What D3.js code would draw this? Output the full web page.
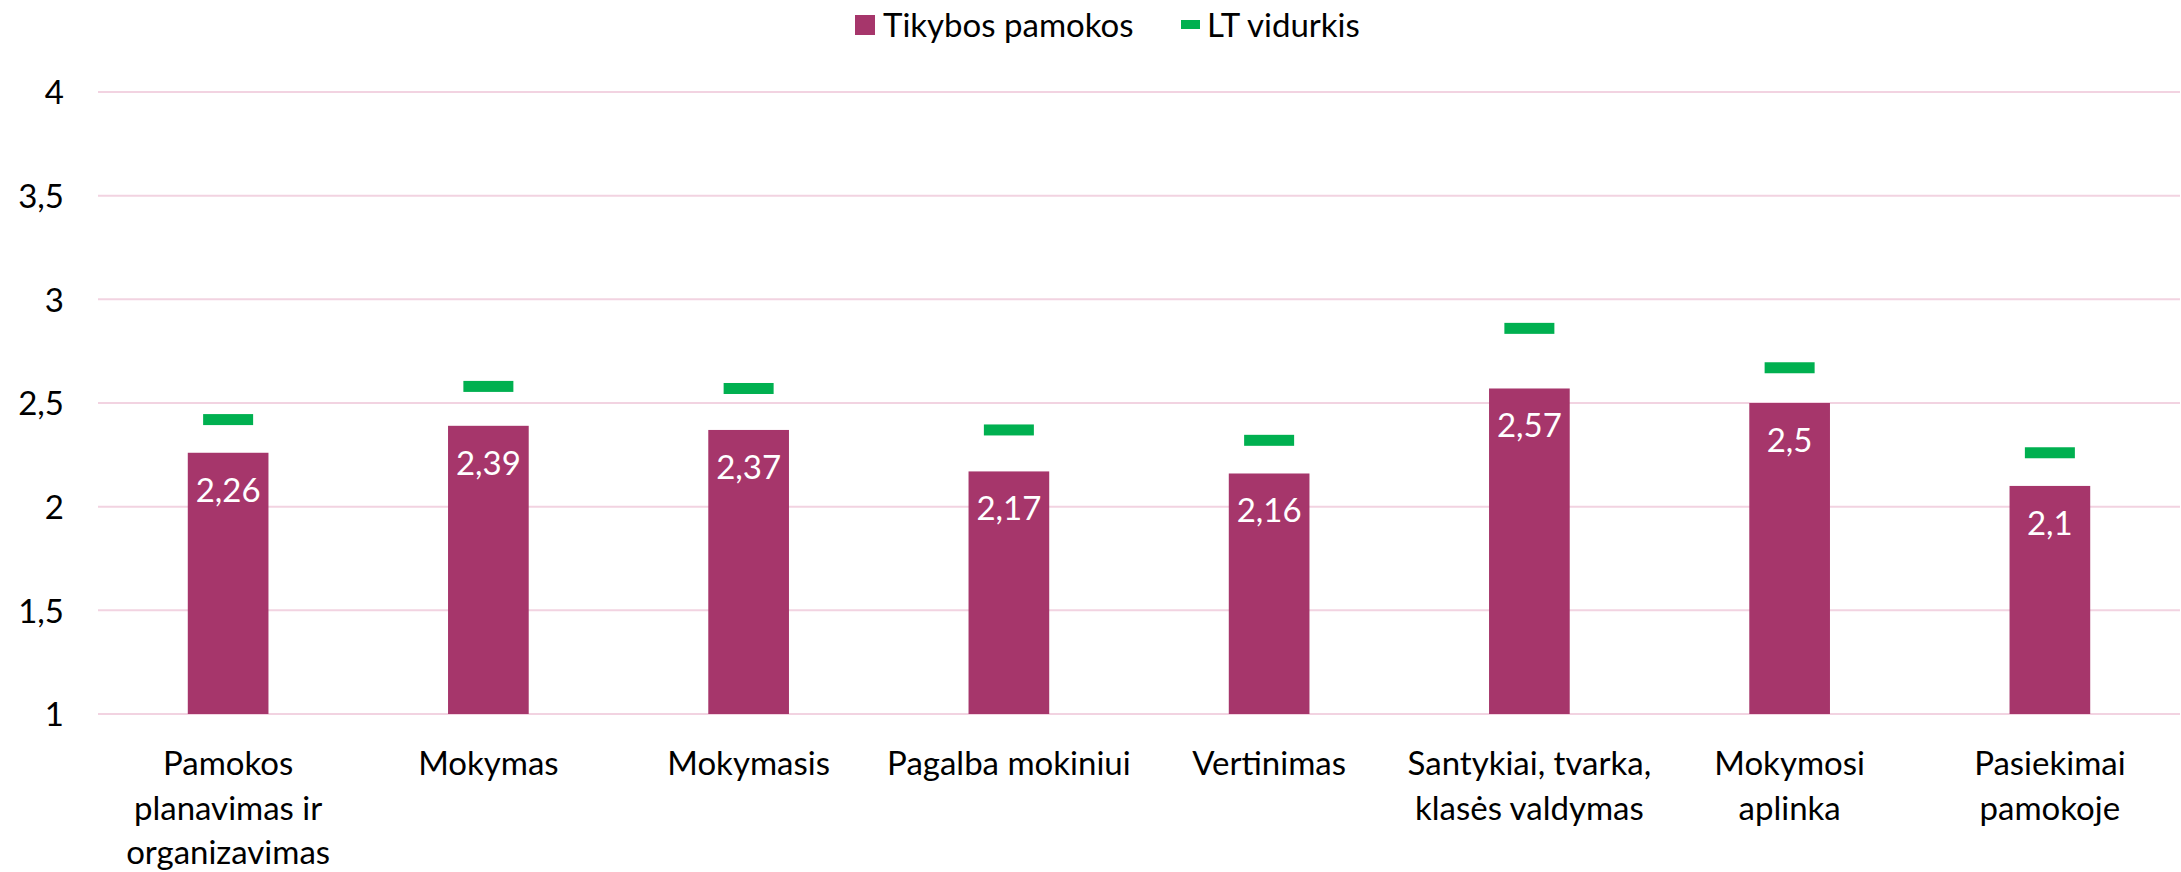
<!DOCTYPE html>
<html>
<head>
<meta charset="utf-8">
<script src="https://cdn.jsdelivr.net/npm/d3@7"></script>
<style>
  html, body { margin: 0; padding: 0; background: #fff; }
  svg { display: block; font-family: Lato, "Open Sans", sans-serif; }
</style>
</head>
<body>
<svg id="chart" width="2181" height="872"></svg>
<script>
const categories = [
  ["Pamokos", "planavimas ir", "organizavimas"],
  ["Mokymas"],
  ["Mokymasis"],
  ["Pagalba mokiniui"],
  ["Vertinimas"],
  ["Santykiai, tvarka,", "klasės valdymas"],
  ["Mokymosi", "aplinka"],
  ["Pasiekimai", "pamokoje"]
];
const tikybos = [2.26, 2.39, 2.37, 2.17, 2.16, 2.57, 2.5, 2.1];
const ltVidurkis = [2.42, 2.58, 2.57, 2.37, 2.32, 2.86, 2.67, 2.26];
const yTicks = [1, 1.5, 2, 2.5, 3, 3.5, 4];
const seriesNames = ["Tikybos pamokos", "LT vidurkis"];

const barColor = "#A6366B";
const markColor = "#00B050";
const gridColor = "#F2D3E1";
const fontSize = 33;

const svg = d3.select("#chart");
const fmt = v => String(v).replace(".", ",");

const x = d3.scaleBand()
  .domain(d3.range(categories.length))
  .range([98, 2180])
  .paddingInner(0.69)
  .paddingOuter(0.345);

const y = d3.scaleLinear().domain([1, 4]).range([714, 92]);

// gridlines
svg.append("g").selectAll("line").data(yTicks).join("line")
  .attr("x1", 98).attr("x2", 2180)
  .attr("y1", d => y(d)).attr("y2", d => y(d))
  .attr("stroke", gridColor).attr("stroke-width", 2);

// y axis labels
const yAxis = d3.axisLeft(y).tickValues(yTicks).tickFormat(fmt).tickSize(0).tickPadding(0);
const yg = svg.append("g").attr("transform", "translate(64,0)").call(yAxis);
yg.select(".domain").remove();
yg.selectAll("text").attr("font-size", fontSize).attr("fill", "#000")
  .attr("font-family", "Lato, 'Open Sans', sans-serif").attr("dy", "0.36em");

// bars
svg.append("g").selectAll("rect").data(tikybos).join("rect")
  .attr("x", (d, i) => x(i)).attr("width", x.bandwidth())
  .attr("y", d => y(d)).attr("height", d => y(1) - y(d))
  .attr("fill", barColor);

// bar labels
svg.append("g").selectAll("text").data(tikybos).join("text")
  .attr("x", (d, i) => x(i) + x.bandwidth() / 2)
  .attr("y", d => y(d) + 49)
  .attr("text-anchor", "middle")
  .attr("font-size", fontSize).attr("fill", "#fff")
  .text(fmt);

// LT markers
const mw = 50, mh = 11;
svg.append("g").selectAll("rect").data(ltVidurkis).join("rect")
  .attr("x", (d, i) => x(i) + x.bandwidth() / 2 - mw / 2)
  .attr("y", d => y(d) - mh / 2)
  .attr("width", mw).attr("height", mh)
  .attr("fill", markColor);

// x labels
const xl = svg.append("g").selectAll("text").data(categories).join("text")
  .attr("x", (d, i) => x(i) + x.bandwidth() / 2)
  .attr("y", 775)
  .attr("text-anchor", "middle")
  .attr("font-size", fontSize).attr("fill", "#000");
xl.selectAll("tspan").data(d => d).join("tspan")
  .attr("x", function() { return d3.select(this.parentNode).attr("x"); })
  .attr("dy", (d, i) => i === 0 ? 0 : 44.5)
  .text(d => d);

// legend
const lg = svg.append("g");
lg.append("rect").attr("x", 855).attr("y", 15).attr("width", 20).attr("height", 20).attr("fill", barColor);
lg.append("text").attr("x", 883).attr("y", 37).attr("font-size", fontSize).attr("fill", "#000").text(seriesNames[0]);
lg.append("rect").attr("x", 1181).attr("y", 20).attr("width", 19).attr("height", 9).attr("fill", markColor);
lg.append("text").attr("x", 1207).attr("y", 37).attr("font-size", fontSize).attr("fill", "#000").text(seriesNames[1]);
</script>
</body>
</html>
